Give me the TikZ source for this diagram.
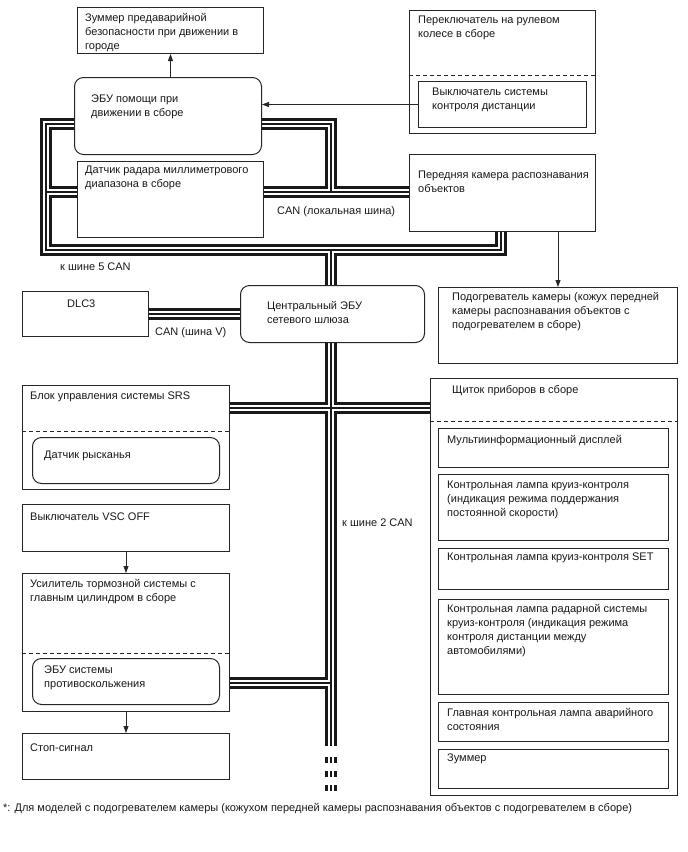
\documentclass[tikz,border=0pt]{standalone}
\usepackage{fontspec}
\setmainfont{Liberation Sans}
\usetikzlibrary{arrows.meta,backgrounds}

\begin{document}
\begin{tikzpicture}[x=1pt,y=-1pt,
    blk/.style={draw=black!85, line width=1pt, fill=white, anchor=north west, inner sep=0pt},
    rblk/.style={blk, rounded corners=9pt},
    txt/.style={anchor=north west, inner sep=0pt, align=left, font=\fontsize{11}{14}\selectfont, text=black!90},
    sep/.style={draw=black!85, line width=1pt, dash pattern=on 4pt off 3pt},
    arr/.style={draw=black!85, line width=0.8pt, -{Triangle[length=7pt,width=5pt]}},
    busout/.style={line width=12pt, black!90},
    busmid/.style={line width=5.6pt, white},
    buscore/.style={line width=1.2pt, black!90}]
    \useasboundingbox (0,0) rectangle (688,852);

    % Nodes
    \node[blk, minimum width=186, minimum height=46] (buzzer) at (77,7) {};
    \node[rblk, minimum width=187, minimum height=77] (assist) at (74,77) {};
    \node[blk, minimum width=186, minimum height=123] (steer) at (409,10) {};
    \draw[sep] (409,75) -- (595,75);
    \node[blk, minimum width=168, minimum height=46] (distsw) at (418,81) {};
    \node[blk, minimum width=186, minimum height=76] (radar) at (77,161) {};
    \node[blk, minimum width=186, minimum height=77] (camera) at (409,154) {};
    \node[blk, minimum width=239, minimum height=76] (heater) at (438,287) {};
    \node[blk, minimum width=126, minimum height=45] (dlc) at (22,291) {};
    \node[rblk, minimum width=184, minimum height=57] (gateway) at (240,285) {};
    \node[blk, minimum width=207, minimum height=104] (srs) at (22,385) {};
    \draw[sep] (22,431) -- (229,431);
    \node[rblk, minimum width=187, minimum height=46] (yaw) at (32,437) {};
    \node[blk, minimum width=207, minimum height=47] (vscsw) at (22,504) {};
    \node[blk, minimum width=207, minimum height=138] (booster) at (22,573) {};
    \draw[sep] (22,653) -- (229,653);
    \node[rblk, minimum width=187, minimum height=46] (skid) at (32,658) {};
    \node[blk, minimum width=207, minimum height=46] (stoplamp) at (22,733) {};
    \node[blk, minimum width=247, minimum height=417] (meter) at (430,378) {};
    \draw[sep] (430,421) -- (677,421);
    \node[blk, minimum width=230, minimum height=39] (mid) at (438,428) {};
    \node[blk, minimum width=230, minimum height=66] (cruise) at (438,474) {};
    \node[blk, minimum width=230, minimum height=41] (setlamp) at (438,548) {};
    \node[blk, minimum width=230, minimum height=95] (radarlamp) at (438,599) {};
    \node[blk, minimum width=230, minimum height=39] (master) at (438,702) {};
    \node[blk, minimum width=230, minimum height=39] (buzz) at (438,749) {};

    % Bus points
    \coordinate (jl) at (46,192);
    \coordinate (jr) at (331,192);
    \coordinate (ctl) at (46,124);
    \coordinate (ctr) at (331,124);
    \coordinate (cbl) at (46,250);
    \coordinate (cbr) at (501,250);
    \coordinate (jm) at (331,250);
    \coordinate (jx) at (331,408);
    \coordinate (jb) at (331,683);
    \coordinate (mend) at (331,746);
    \coordinate (dsa) at (331,757);
    \coordinate (dsb) at (331,791);

    % CAN lines
    \begin{scope}[on background layer]
    \foreach \s in {busout,busmid,buscore} {
        \draw[\s] (jr) -- (ctr) -- (ctl) -- (cbl) -- (cbr) -- (camera.south -| cbr)
                  (jl) -- (camera.west |- jl)
                  (jm) -- (mend)
                  (dlc) -- (gateway)
                  (srs.east |- jx) -- (meter.west |- jx)
                  (skid.east |- jb) -- (jb);
        \draw[\s, dash pattern=on 6pt off 8pt] (dsa) -- (dsb);
    }
    \end{scope}

    % Arrows
    \draw[arr] (assist.north -| buzzer.south) -- (buzzer.south);
    \draw[arr] (distsw.west) -- (distsw.west -| assist.east);
    \draw[arr] (camera.south -| heater.north) -- (heater.north);
    \draw[arr] (vscsw) -- (booster);
    \draw[arr] (booster) -- (stoplamp);

    % Texts
    \node[txt] (buzzer-t) at (85,13) {Зуммер предаварийной\\безопасности при движении в\\городе};
    \node[txt] (assist-t) at (91,95) {ЭБУ помощи при\\движении в сборе};
    \node[txt] (steer-t) at (418,16) {Переключатель на рулевом\\колесе в сборе};
    \node[txt] (distsw-t) at (432,88) {Выключатель системы\\контроля дистанции};
    \node[txt] (radar-t) at (85,166) {Датчик радара миллиметрового\\диапазона в сборе};
    \node[txt] (camera-t) at (418,171) {Передняя камера распознавания\\объектов};
    \node[txt] (heater-t) at (452,292) {Подогреватель камеры (кожух передней\\камеры распознавания объектов с\\подогревателем в сборе)};
    \node[txt] (dlc-t) at (67,300) {DLC3};
    \node[txt] (gateway-t) at (267,301) {Центральный ЭБУ\\сетевого шлюза};
    \node[txt] (srs-t) at (30,392) {Блок управления системы SRS};
    \node[txt] (yaw-t) at (44,451) {Датчик рысканья};
    \node[txt] (vscsw-t) at (30,513) {Выключатель VSC OFF};
    \node[txt] (booster-t) at (30,579) {Усилитель тормозной системы с\\главным цилиндром в сборе};
    \node[txt] (skid-t) at (44,666) {ЭБУ системы\\противоскольжения};
    \node[txt] (stoplamp-t) at (30,744) {Стоп-сигнал};
    \node[txt] (meter-t) at (452,385) {Щиток приборов в сборе};
    \node[txt] (mid-t) at (447,435) {Мультиинформационный дисплей};
    \node[txt] (cruise-t) at (447,481) {Контрольная лампа круиз-контроля\\(индикация режима поддержания\\постоянной скорости)};
    \node[txt] (setlamp-t) at (447,553) {Контрольная лампа круиз-контроля SET};
    \node[txt] (radarlamp-t) at (447,604) {Контрольная лампа радарной системы\\круиз-контроля (индикация режима\\контроля дистанции между\\автомобилями)};
    \node[txt] (master-t) at (447,708) {Главная контрольная лампа аварийного\\состояния};
    \node[txt] (buzz-t) at (447,754) {Зуммер};

    \node[txt] (can5) at (60,263) {к шине 5 CAN};
    \node[txt] (canloc) at (277,206) {CAN (локальная шина)};
    \node[txt] (canv) at (155,327) {CAN (шина V)};
    \node[txt] (can2) at (342,519) {к шине 2 CAN};
    \node[txt] (note) at (3,803) {*: Для моделей с подогревателем камеры (кожухом передней камеры распознавания объектов с подогревателем в сборе)};
\end{tikzpicture}
\end{document}
